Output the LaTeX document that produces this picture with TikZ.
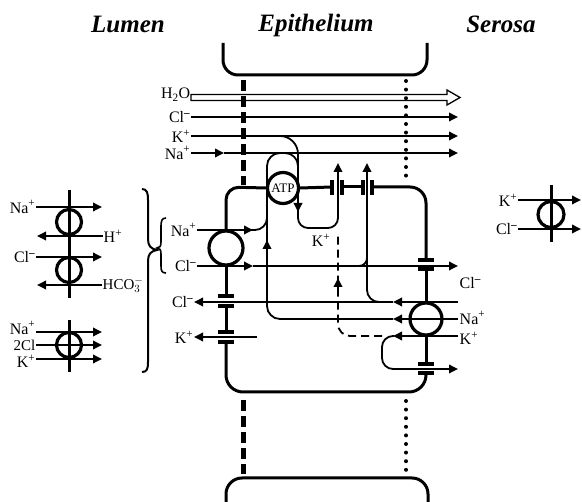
\documentclass[tikz,border=0pt]{standalone}
\usepackage{fontspec}
\setmainfont{Liberation Serif}
\usetikzlibrary{arrows.meta}

\begin{document}
\begin{tikzpicture}[
  x=1pt, y=-1pt,
  every node/.style={font=\fontsize{16}{17}\selectfont, inner sep=0.5pt},
  >={Triangle[length=9pt, width=8.5pt]},
  mem/.style={line width=3pt},
  flow/.style={line width=1.8pt},
  tr/.style={circle, draw, line width=3.2pt, inner sep=0pt},
  bar/.style={line width=3.5pt},
  title/.style={font=\fontsize{25}{27}\selectfont\bfseries\itshape, anchor=base},
  tj/.style={line width=5pt, dash pattern=on 11pt off 5pt},
  dots/.style={line width=4pt, line cap=round, dash pattern=on 0pt off 8.6pt},
  dsh/.style={line width=1.8pt, dash pattern=on 8pt off 5pt}
]
\useasboundingbox (0,0) rectangle (582,502);
% headings
\node[title] (lum) at (128,33) {Lumen};
\node[title] (epi) at (316,32) {Epithelium};
\node[title] (ser) at (501,33) {Serosa};
% neighbouring cells and junctions
\draw[mem, rounded corners=15pt] (223,43) -- (223,75) -- (427,75) -- (427,43);
\draw[mem, rounded corners=16pt] (226,506) -- (226,478) -- (428,478) -- (428,506);
\draw[tj] (243,80) -- (243,185);
\draw[tj] (243,400) -- (243,474);
\draw[dots] (406,81) -- (406,184);
\draw[dots] (406,401) -- (406,472);
% paracellular route
\node[anchor=east] (wat) at (191,95) {H\textsubscript{2}O};
\node[anchor=east] (pcl) at (191,117) {Cl\textsuperscript{\textbf{--}}};
\node[anchor=east] (pk) at (191,136) {K\textsuperscript{+}};
\node[anchor=east] (pna) at (191,153) {Na\textsuperscript{+}};
\draw[line width=1.3pt] (wat.east |- 0,94.5) -- (447,94.5) -- (447,90) -- (460,97.5)
  -- (447,105) -- (447,100.5) -- (wat.east |- 0,100.5) -- cycle;
\draw[flow,->] (pcl.east) -- (458,117);
\draw[flow,->] (pk.east) -- (458,136);
\draw[flow,->] (pna.east) -- (224,153);
\draw[flow,->] (224,153) -- (458,153);
% the cell
\node[tr, minimum size=34pt] (ap) at (226,248) {};
\node[tr, minimum size=31pt, font=\fontsize{13}{13}\selectfont] (atp) at (283,188) {ATP};
\node[tr, minimum size=32pt] (bl) at (426,319) {};
\draw[mem, rounded corners=13pt] (ap.north) -- (226,187) -- (atp.west);
\draw[mem] (atp.east) -- (332,187);
\draw[mem] (342,187) -- (363,187);
\draw[mem, rounded corners=16pt] (372,187) -- (426,187) -- (426,260);
\draw[mem] (426,269) -- (bl.north);
\draw[mem] (bl.south) -- (426,364);
\draw[mem, rounded corners=17pt] (426,373) -- (426,392) -- (226,392) -- (226,342);
\draw[mem] (226,332) -- (226,306);
\draw[mem] (226,296) -- (ap.south);
% channels
\foreach \x in {332,342,363,372} \draw[bar] (\x,180) -- (\x,195);
\foreach \y in {260,269,364,373} \draw[bar] (418,\y) -- (434,\y);
\foreach \y in {296,306,332,342} \draw[bar] (218,\y) -- (234,\y);
% apical entry
\node[anchor=east] (ana) at (197,230) {Na\textsuperscript{+}};
\node[anchor=east] (acl) at (197,266) {Cl\textsuperscript{\textbf{--}}};
\draw[flow,->] (ana.east) -- (253,230);
\draw[flow, rounded corners=12pt] (250,230) -- (267,230) -- (267,212);
\draw[flow,->] (acl.east) -- (253,266);
\draw[flow,->] (253,266) -- (458,266);
% apical exit
\node[anchor=east] (xcl) at (194,302) {Cl\textsuperscript{\textbf{--}}};
\node[anchor=east] (xk) at (194,337) {K\textsuperscript{+}};
\draw[flow,->] (393,302) -- (xcl.east);
\draw[flow,->] (257,337) -- (xk.east);
% basolateral cotransport
\node[anchor=west] (bcl) at (459,283) {Cl\textsuperscript{\textbf{--}}};
\node[anchor=west] (bna) at (459,318) {Na\textsuperscript{+}};
\node[anchor=west] (bk) at (459,338) {K\textsuperscript{+}};
\draw[flow,->] (458,302) -- (393,302);
\draw[flow,->] (458,319) -- (393,319);
\draw[flow,->] (458,336) -- (393,336);
\draw[flow,->, rounded corners=12pt] (392,302) -- (367,302) -- (367,163);
\draw[flow, rounded corners=8pt] (352,266) -- (367,266) -- (367,250);
% Na+ out through the pump
\draw[flow, rounded corners=13pt] (393,319) -- (267,319) -- (267,153) -- (298,153) -- (298,172);
\draw[flow,->] (267,262) -- (267,240);
% K+ in through the pump and back out
\draw[flow,->, rounded corners=18pt] (250,136) -- (298,136) -- (298,212);
\draw[flow,->, rounded corners=10pt] (298,205) -- (298,228) -- (338,228) -- (338,163);
\node (lk) at (321,240) {K\textsuperscript{+}};
\draw[flow,->, rounded corners=11pt] (394,336) -- (382,336) -- (382,369) -- (458,369);
\draw[dsh, rounded corners=12pt] (382,336) -- (338,336) -- (338,232);
\draw[flow,->] (338,292) -- (338,278);
% lumen side alternatives
\draw[line width=2pt] (142,189) .. controls (147,189) and (148,193) .. (148,200) -- (148,239)
  .. controls (148,246) and (151,249) .. (157,250) .. controls (151,251) and (148,254) .. (148,261)
  -- (148,362) .. controls (148,369) and (147,372) .. (142,372);
\draw[line width=1.6pt] (166,218) .. controls (162,218) and (161,221) .. (161,226) -- (161,242)
  .. controls (161,246) and (160,248) .. (157,248) .. controls (160,248) and (161,250) .. (161,254)
  -- (161,266) .. controls (161,271) and (162,273) .. (166,273);
\draw[mem] (69,190) -- (69,298);
\draw[mem] (69,320) -- (69,372);
\node[tr, minimum size=25pt] (nhe) at (69,222) {};
\node[tr, minimum size=25pt] (ae) at (69,270) {};
\node[tr, minimum size=25pt] (nkcc) at (69,345) {};
\node[anchor=east] (lna) at (36,207) {Na\textsuperscript{+}};
\node[anchor=west] (lh) at (103,236) {H\textsuperscript{+}};
\node[anchor=east] (lcl) at (36,257) {Cl\textsuperscript{\textbf{--}}};
\node[anchor=west, font=\fontsize{15}{16}\selectfont] (lhco) at (102,285) {HCO$_3^{-}$};
\draw[flow,->] (lna.east) -- (102,207);
\draw[flow,->] (lh.west) -- (37,236);
\draw[flow,->] (lcl.east) -- (102,257);
\draw[flow,->] (lhco.west) -- (37,285);
\node[anchor=east] (cna) at (36,328) {Na\textsuperscript{+}};
\node[anchor=east, font=\fontsize{15}{15}\selectfont] (ccl) at (36,345) {2Cl};
\node[anchor=east] (ck) at (36,361) {K\textsuperscript{+}};
\draw[flow,->] (cna.east |- 0,332) -- (102,332);
\draw[flow,->] (ccl.east) -- (102,345);
\draw[flow,->] (ck.east |- 0,359) -- (102,359);
% serosal K-Cl cotransport
\draw[mem] (551,185) -- (551,242);
\node[tr, minimum size=26pt] (kcc) at (551,214.5) {};
\node[anchor=east] (sk) at (518,200) {K\textsuperscript{+}};
\node[anchor=east] (scl) at (518,229) {Cl\textsuperscript{\textbf{--}}};
\draw[flow,->] (sk.east) -- (581,200);
\draw[flow,->] (scl.east) -- (581,229);
\end{tikzpicture}
\end{document}
